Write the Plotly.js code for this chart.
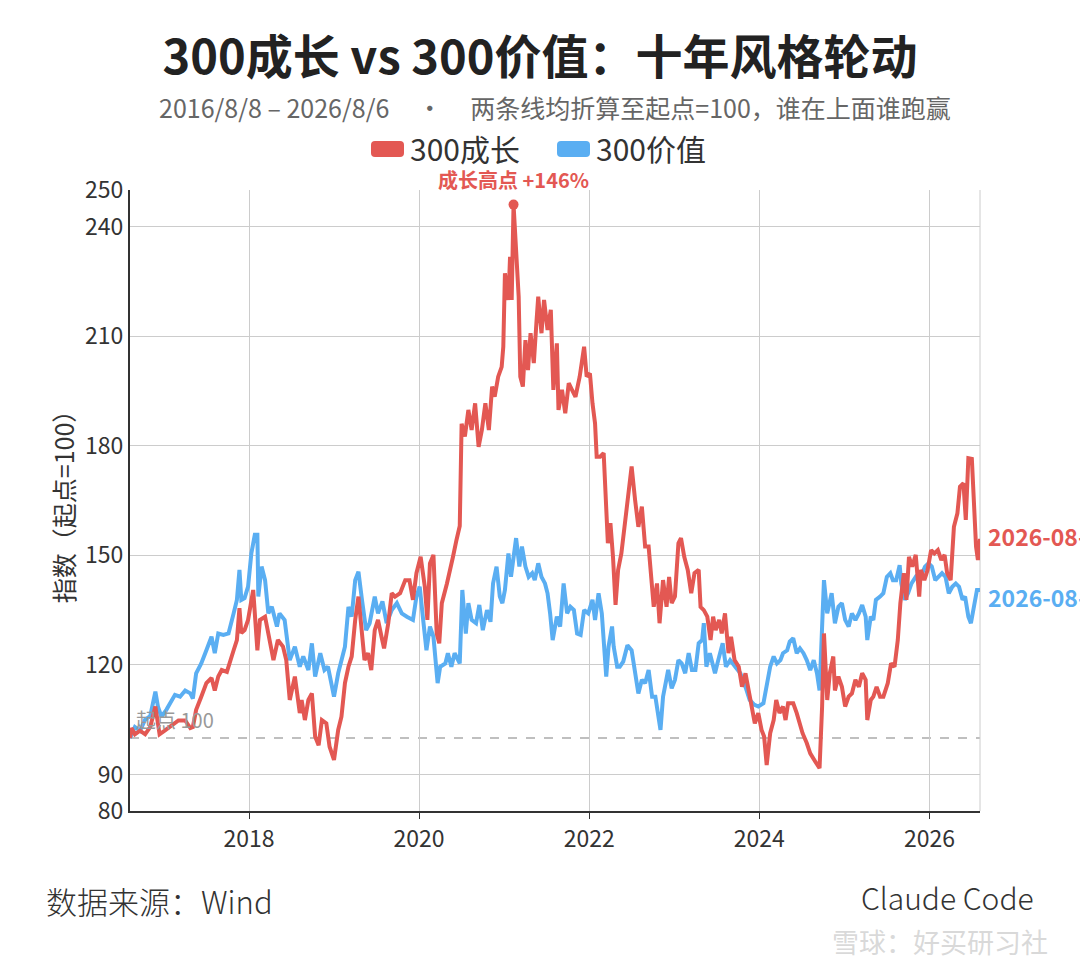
<!DOCTYPE html>
<html>
<head>
<meta charset="utf-8">
<script src="https://cdn.plot.ly/plotly-3.0.1.min.js"></script>
<style>
  html, body { margin: 0; padding: 0; background: #fff; }
  #chart { width: 1080px; height: 960px; }
</style>
</head>
<body>
<div id="chart"></div>
<script>
// ---------- DATA (decimal years, index with start = 100) ----------
const growthYears = [
  2016.60,2016.62,2016.66,2016.72,2016.78,2016.84,2016.90,2016.95,2017.01,2017.09,2017.17,2017.25,2017.31,2017.34,2017.38,2017.44,2017.50,2017.56,2017.60,2017.64,2017.68,2017.74,2017.78,2017.82,2017.86,2017.89,2017.91,2017.95,2017.99,2018.05,2018.10,2018.13,2018.19,2018.23,2018.29,2018.34,2018.40,2018.44,2018.48,2018.54,2018.60,
  2018.62,2018.66,2018.70,2018.74,2018.78,2018.82,2018.86,2018.91,2018.95,2019.00,2019.05,2019.09,2019.13,2019.17,2019.21,2019.25,2019.29,2019.33,2019.36,2019.40,2019.44,2019.48,2019.52,2019.56,2019.59,2019.64,2019.68,2019.72,2019.78,2019.84,2019.89,2019.93,2019.97,2020.02,2020.07,2020.10,2020.13,2020.17,2020.21,2020.24,2020.27,2020.33,2020.36,2020.40,2020.44,2020.48,
  2020.50,2020.54,2020.58,2020.62,2020.66,2020.70,2020.74,2020.78,2020.82,2020.86,2020.89,2020.93,2020.97,2020.99,2021.01,2021.05,2021.07,2021.09,2021.11,2021.14,2021.17,2021.19,2021.22,2021.25,2021.28,2021.31,2021.35,2021.38,2021.40,2021.44,2021.47,2021.51,2021.55,2021.58,2021.62,2021.64,2021.68,2021.72,2021.76,2021.80,2021.84,2021.89,2021.94,2021.97,2022.01,2022.04,2022.07,
  2022.09,2022.13,2022.17,2022.20,2022.22,2022.25,2022.28,2022.31,2022.34,2022.38,2022.43,2022.46,2022.50,
  2022.54,2022.58,2022.62,2022.66,2022.70,2022.73,2022.76,2022.80,2022.83,2022.87,2022.91,2022.94,2022.97,2023.01,2023.05,2023.08,2023.12,2023.16,2023.20,2023.24,2023.29,2023.31,2023.35,2023.39,2023.43,2023.46,2023.49,2023.53,2023.56,2023.60,2023.64,2023.67,2023.71,2023.76,2023.80,2023.84,2023.87,2023.91,2023.95,2023.99,2024.03,2024.06,2024.09,2024.13,2024.17,2024.20,2024.24,2024.28,2024.31,2024.34,2024.40,2024.44,2024.47,2024.51,2024.56,
  2024.60,2024.66,2024.71,2024.74,2024.76,2024.80,2024.83,2024.87,2024.89,2024.93,2024.97,2025.01,2025.05,2025.09,2025.13,2025.17,2025.21,2025.25,2025.27,2025.31,2025.34,2025.38,2025.42,2025.46,2025.51,2025.55,2025.59,2025.63,2025.66,2025.70,2025.73,2025.76,2025.80,2025.84,2025.88,2025.90,2025.94,2025.98,2026.02,2026.06,2026.10,2026.14,2026.18,2026.21,2026.25,2026.29,2026.33,2026.36,2026.40,2026.43,2026.46,2026.50,2026.52,2026.55,2026.57,2026.595
];
const growthValues = [
  100,102.7,101,102,101,103,108.6,101,102,103.5,104.8,104.8,102.7,103,107.7,111.3,115,116.4,113,116.8,118.6,118.1,121.3,124,126.8,135.5,128.7,129.5,132.3,140.5,124,132.3,133.2,128.6,121.3,126.8,125,121.3,110.4,116.8,106.8,
  110.4,104.9,110.4,112.2,100.4,98,104.9,104,97.6,94,102.2,105.8,115,119.5,122.3,132.3,138.7,129.5,121.3,123.2,118.6,129.5,132.3,127.7,124.5,131.4,139.6,138.7,139.6,143.2,143.2,137.8,145.1,149.6,141.4,132.3,147.8,150.1,128.6,125.9,136.9,142.3,146,149.6,154.2,158,
  186,182.5,189.8,184.3,191.6,179.7,184.3,191.6,184.3,196.2,193.4,198.9,201.6,207.1,227.2,219.9,231.7,219.9,246,231.7,220.8,198.9,196.2,208.9,200.7,210.8,202.6,213.5,220.8,210.8,219.9,211.7,217.2,195.3,208,189.8,195.3,188.9,197.1,195.3,193.4,198.9,207.1,198.9,199.8,191.6,186.1,
  177,177,178,162.4,153.3,158.8,149.6,136.4,146,150.5,159.7,167,174.3,
  165.1,157.8,163.3,152.4,152.4,143.2,135.9,142.3,131.4,143.2,135.9,144.1,136.9,138.7,153.3,154.7,149.6,146,139.6,145.1,146,135.9,135,133.2,126.8,133.2,129.5,132.3,128.6,134.1,123.2,127.7,121.3,119.5,114,117.7,114,109.5,104,106.8,102.2,100.4,92.6,101.3,104.9,110.4,106.8,108.6,104.9,109.5,109.5,106.8,104,101.3,98.6,
  95.8,93.5,91.7,108.6,128.6,110.4,117.7,122.3,113,116.8,114,108.6,111.3,112.2,115.9,114,117.7,115.9,104.9,110.4,111.3,114,111.3,111.3,115,120.4,119.5,126.8,136.9,145.1,137.8,149.6,146.9,150.1,138.7,146,143.2,146,151.4,150.5,151.4,148.7,150.1,145.1,143.2,157.8,161.5,168.8,169.7,159.7,176.6,176.4,166.1,152.4,148.7,154.5
];

const valueYears = [
  2016.60,2016.66,2016.72,2016.78,2016.84,2016.90,2016.93,2016.97,2017.03,2017.09,2017.13,2017.19,2017.25,2017.31,2017.34,2017.38,2017.44,2017.50,2017.56,2017.60,2017.64,2017.70,2017.76,2017.82,2017.86,2017.89,2017.91,2017.95,2017.99,2018.03,2018.07,2018.10,2018.11,2018.15,2018.19,2018.23,2018.27,2018.33,2018.36,2018.42,2018.48,2018.54,2018.60,
  2018.64,2018.70,2018.74,2018.78,2018.84,2018.89,2018.93,2018.97,2019.00,2019.05,2019.09,2019.13,2019.17,2019.21,2019.25,2019.29,2019.33,2019.38,2019.42,2019.48,2019.52,2019.57,2019.62,2019.68,2019.74,2019.80,2019.86,2019.93,2019.97,2020.01,2020.05,2020.09,2020.13,2020.17,2020.22,2020.25,2020.31,2020.34,2020.38,2020.42,2020.48,2020.51,2020.55,2020.58,2020.62,
  2020.67,2020.71,2020.75,2020.80,2020.84,2020.87,2020.91,2020.95,2020.98,2021.01,2021.05,2021.08,2021.14,2021.18,2021.21,2021.25,2021.29,2021.33,2021.36,2021.40,2021.44,2021.48,2021.51,2021.54,2021.57,2021.62,2021.66,2021.70,2021.74,2021.78,2021.82,2021.86,2021.90,2021.94,2021.99,2022.04,2022.07,2022.11,2022.15,2022.20,2022.23,2022.27,2022.29,2022.33,2022.36,2022.40,2022.45,2022.50,2022.54,
  2022.58,2022.62,2022.66,2022.70,2022.74,2022.78,2022.84,2022.87,2022.93,2022.97,2023.01,2023.05,2023.09,2023.13,2023.17,2023.21,2023.25,2023.29,2023.33,2023.35,2023.38,2023.42,2023.48,2023.52,2023.57,2023.61,2023.66,2023.72,2023.78,2023.84,2023.89,2023.94,2023.99,2024.05,2024.09,2024.13,2024.17,2024.21,2024.25,2024.28,2024.33,2024.36,2024.40,2024.44,2024.48,
  2024.52,2024.56,2024.60,2024.64,2024.68,2024.71,2024.74,2024.76,2024.80,2024.83,2024.85,2024.89,2024.93,2024.97,2025.01,2025.05,2025.09,2025.13,2025.17,2025.21,2025.25,2025.27,2025.31,2025.34,2025.37,2025.42,2025.46,2025.50,2025.54,2025.57,2025.61,2025.65,2025.67,2025.71,2025.75,2025.79,2025.84,2025.88,2025.91,2025.95,2025.99,2026.03,2026.07,2026.11,2026.15,2026.19,2026.23,2026.27,2026.31,2026.35,2026.39,2026.42,2026.46,2026.49,2026.52,2026.56,2026.595
];
const valueValues = [
  100,103,102,105,106,112.7,108.6,105.8,107.7,110.4,111.8,111.3,113,112.2,110.8,117.7,120.4,124,127.7,123.2,128.6,128.2,128.6,134.1,137.8,146,137.8,138.3,141.4,150.5,155.6,155.6,138.7,146.9,143.2,134.1,135.9,130.5,134.1,132.3,121.3,125,119.5,
  122.3,118.6,125.9,116.8,123.2,118.6,119.5,114,111.3,117.7,121.3,125,135.9,133.2,143.2,145.5,137.8,129.5,131.4,138.7,134.1,137.4,131.4,135,136.9,134.1,133.2,132.3,138.7,141.4,132.3,124,130.5,127.7,115,119.5,120.4,123.2,119.5,123.2,120.4,140.5,128.6,136.9,132.3,
  131.4,136.4,129.5,135,131.8,142.3,146.9,138.7,136.9,140.5,150.5,144.1,154.7,146.9,152.4,146.9,144.1,145.1,143.2,147.8,144.1,142.3,139.6,134.1,126.8,133.2,130.5,142.3,134.1,135.9,135,128.6,128.2,135,134.1,137.8,132.3,139.6,134.1,116.8,125,130.5,125,119.5,119.5,120.9,125.4,124,117.7,
  112.2,115.9,115,118.6,111.3,111.3,102.2,111.3,118.6,113.6,115.9,121.3,120.4,117.7,123.2,118.6,118.6,125.9,126.8,131.4,119.5,123.2,117.7,121.3,125.9,119.5,121.3,119.5,117.7,114,110.4,109.1,108.6,109.5,115,119.5,122.3,120.4,121.3,123.2,124,126.4,127.3,123.2,124.5,
  123.2,121.3,118.6,121.3,117.7,113,130.5,143.2,134.1,136.9,139.6,131.4,135.9,136.9,132.3,130.5,134.1,132.3,134.1,136.4,133.2,126.8,133.2,132.3,137.8,138.7,139.6,144.1,145.1,143.2,143.2,147.3,142.3,137.8,139.6,142.3,144.1,143.2,145.1,146.9,147.8,146.9,143.2,144.1,145.1,144.1,139.6,141.4,142.3,141.4,137.8,138.7,133.2,131.4,135.9,140.5,140.5
];

const seriesNames = ['300成长', '300价值'];
const seriesColors = ['#E35853', '#5AAEF2'];
const yTickVals = [80, 90, 120, 150, 180, 210, 240, 250];
const xStart = '2016-08-08';
const xEnd = '2026-08-06';
const endLabel = '2026-08-06';

// decimal year -> ISO date
function toDate(d) {
  const y = Math.floor(d);
  const a = Date.UTC(y, 0, 1), b = Date.UTC(y + 1, 0, 1);
  return new Date(a + (d - y) * (b - a)).toISOString().slice(0, 10);
}
const gX = growthYears.map(toDate);
const vX = valueYears.map(toDate);
gX[0] = xStart; vX[0] = xStart;
gX[gX.length - 1] = xEnd; vX[vX.length - 1] = xEnd;

let pk = 0;
growthValues.forEach((v, i) => { if (v > growthValues[pk]) pk = i; });
const peakPct = Math.round(growthValues[pk] - 100);

const FONT = '"Noto Sans CJK SC", "Noto Sans", sans-serif';

// plot-area geometry helpers for paper coordinates (layout only)
const PL = 130, PR = 980, PT = 190, PB = 811;
const px = (x) => (x - PL) / (PR - PL);
const py = (y) => (PB - y) / (PB - PT);

const traces = [
  { type: 'scatter', mode: 'lines', x: vX, y: valueValues, name: seriesNames[1],
    line: { color: seriesColors[1], width: 4 }, showlegend: false },
  { type: 'scatter', mode: 'lines', x: gX, y: growthValues, name: seriesNames[0],
    line: { color: seriesColors[0], width: 4 }, showlegend: false },
  { type: 'scatter', mode: 'markers', x: [gX[pk]], y: [growthValues[pk]],
    marker: { color: seriesColors[0], size: 10 }, showlegend: false, cliponaxis: false }
];

function roundRect(w, h, r) {
  return `M ${r} 0 L ${w - r} 0 Q ${w} 0 ${w} ${-r} L ${w} ${-(h - r)} Q ${w} ${-h} ${w - r} ${-h} L ${r} ${-h} Q 0 ${-h} 0 ${-(h - r)} L 0 ${-r} Q 0 0 ${r} 0 Z`;
}

const layout = {
  width: 1080, height: 960,
  paper_bgcolor: '#fff', plot_bgcolor: '#fff',
  margin: { l: PL, r: 1080 - PR, t: PT, b: 960 - PB },
  font: { family: FONT, color: '#333' },
  showlegend: false,
  hovermode: false,
  title: {
    text: '<b>300成长 vs 300价值：十年风格轮动</b>',
    x: 0.5, xanchor: 'center', y: 1 - 58 / 960, yanchor: 'middle',
    font: { family: FONT, size: 47, color: '#222' }
  },
  xaxis: {
    type: 'date', range: [xStart, xEnd],
    tick0: '2018-01-01', dtick: 'M24', tickformat: '%Y',
    showgrid: true, gridcolor: '#cccccc', gridwidth: 1,
    showline: true, linecolor: '#333', linewidth: 2,
    ticks: 'outside', ticklen: 6, tickcolor: '#333', tickwidth: 1,
    tickfont: { family: FONT, size: 23, color: '#333' },
    zeroline: false, fixedrange: true
  },
  yaxis: {
    range: [80, 250], tickmode: 'array', tickvals: yTickVals,
    showgrid: true, gridcolor: '#cccccc', gridwidth: 1,
    showline: true, linecolor: '#333', linewidth: 2,
    ticks: '', ticklen: 0,
    tickfont: { family: FONT, size: 23, color: '#333' },
    zeroline: false, fixedrange: true,
    title: { text: '指数（起点=100）', font: { family: FONT, size: 25, color: '#333' }, standoff: 3 }
  },
  shapes: [
    { type: 'line', xref: 'paper', yref: 'y', x0: 0, x1: 1, y0: 100, y1: 100,
      line: { color: '#aaaaaa', width: 1.5, dash: 'dash' }, layer: 'below' },
    { type: 'line', xref: 'paper', yref: 'paper', x0: 1, x1: 1, y0: 0, y1: 1,
      line: { color: '#cccccc', width: 1 }, layer: 'below' },
    { type: 'path', xref: 'paper', yref: 'paper', xsizemode: 'pixel', ysizemode: 'pixel',
      xanchor: px(371), yanchor: py(141),
      path: roundRect(33, 16, 4), fillcolor: seriesColors[0], line: { width: 0 } },
    { type: 'path', xref: 'paper', yref: 'paper', xsizemode: 'pixel', ysizemode: 'pixel',
      xanchor: px(557), yanchor: py(141),
      path: roundRect(33, 16, 4), fillcolor: seriesColors[1], line: { width: 0 } }
  ],
  annotations: [
    { xref: 'paper', yref: 'paper', x: 0.5, y: py(107), yanchor: 'middle',
      text: '2016/8/8 – 2026/8/6     ·     两条线均折算至起点=100，谁在上面谁跑赢',
      showarrow: false, font: { family: FONT, size: 25, color: '#666' } },
    { xref: 'paper', yref: 'paper', x: px(408), y: py(148), xanchor: 'left', yanchor: 'middle',
      text: seriesNames[0], showarrow: false, font: { family: FONT, size: 30, color: '#333' } },
    { xref: 'paper', yref: 'paper', x: px(594), y: py(148), xanchor: 'left', yanchor: 'middle',
      text: seriesNames[1], showarrow: false, font: { family: FONT, size: 30, color: '#333' } },
    { xref: 'x', yref: 'y', x: gX[pk], y: growthValues[pk], yshift: 9, yanchor: 'bottom',
      text: '<b>成长高点 +' + peakPct + '%</b>', showarrow: false,
      font: { family: FONT, size: 20, color: seriesColors[0] } },
    { xref: 'paper', yref: 'y', x: 0, y: 100, xanchor: 'left', yanchor: 'bottom', xshift: 4, yshift: 2,
      text: '起点 100', showarrow: false, font: { family: FONT, size: 20, color: '#999' } },
    { xref: 'paper', yref: 'y', x: 1, y: growthValues[growthValues.length - 1], xanchor: 'left', yanchor: 'middle', xshift: 6, yshift: 3,
      text: '<b>' + endLabel + '</b>', showarrow: false, font: { family: FONT, size: 23, color: seriesColors[0] } },
    { xref: 'paper', yref: 'y', x: 1, y: valueValues[valueValues.length - 1], xanchor: 'left', yanchor: 'middle', xshift: 6, yshift: -7,
      text: '<b>' + endLabel + '</b>', showarrow: false, font: { family: FONT, size: 23, color: seriesColors[1] } },
    { xref: 'paper', yref: 'paper', x: px(44), y: py(900), xanchor: 'left', yanchor: 'middle',
      text: '数据来源：Wind', showarrow: false, font: { family: FONT, size: 31, color: '#333', weight: 300 } },
    { xref: 'paper', yref: 'paper', x: px(1036), y: py(897), xanchor: 'right', yanchor: 'middle',
      text: 'Claude Code', showarrow: false, font: { family: FONT, size: 30, color: '#333', weight: 300 } },
    { xref: 'paper', yref: 'paper', x: px(1050), y: py(941), xanchor: 'right', yanchor: 'middle',
      text: '雪球：好买研习社', showarrow: false, font: { family: FONT, size: 27, color: 'rgba(200,200,200,0.7)' } }
  ]
};

Plotly.newPlot('chart', traces, layout, { staticPlot: true, displayModeBar: false });
</script>
</body>
</html>
